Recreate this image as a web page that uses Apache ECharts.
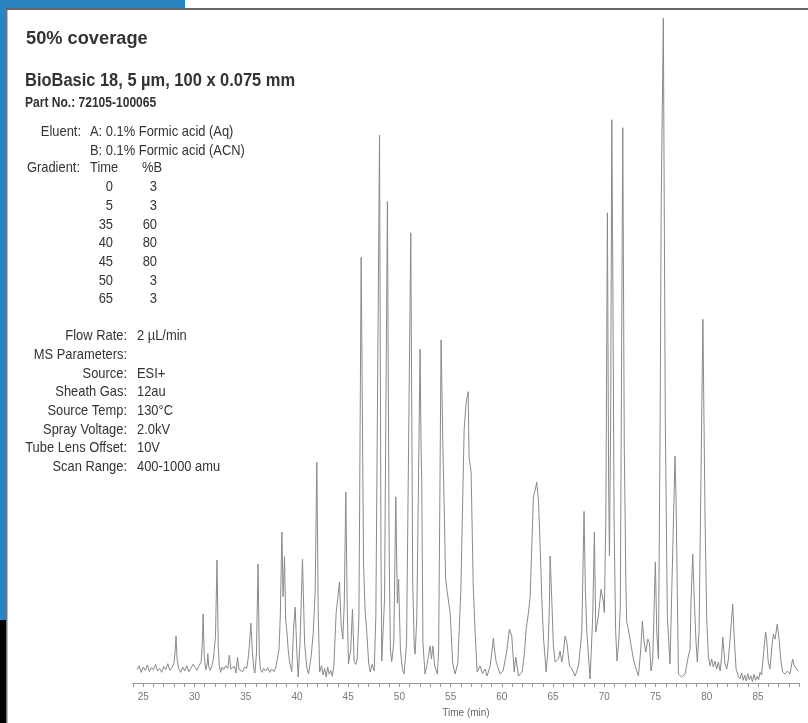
<!DOCTYPE html>
<html>
<head>
<meta charset="utf-8">
<script src="https://cdn.jsdelivr.net/npm/echarts@6/dist/echarts.min.js"></script>
<style>
  html, body { margin: 0; padding: 0; background: #fff; }
  #chart { width: 808px; height: 723px; }
</style>
</head>
<body>
<div id="chart"></div>
<script>
// Chromatogram trace: [retention time (min), relative intensity]
const traceEarly = [
  [24.4,2.0],[24.6,2.6],[24.8,1.6],[25.0,2.4],[25.2,1.9],[25.4,2.7],[25.6,1.7],[25.8,2.3],[26.0,2.0],[26.2,2.8],
  [26.4,1.8],[26.6,2.2],[26.8,1.6],[27.0,2.5],[27.2,2.0],[27.4,2.9],[27.6,1.9],[27.8,2.3],[28.0,3.0],[28.1,4.5],
  [28.2,7.1],[28.3,3.6],[28.45,2.2],[28.65,1.6],[28.85,2.4],[29.05,1.8],[29.25,2.6],[29.45,1.7],[29.65,2.2],[29.85,2.8],
  [30.05,2.4],[30.25,1.9],[30.45,2.6],[30.65,3.2],[30.75,5.5],[30.85,10.4],[30.95,4.0],[31.1,2.0],[31.25,3.0],[31.3,4.4],
  [31.4,2.4],[31.55,1.9],[31.7,2.6],[31.85,3.6],[31.97,5.7],[32.05,7.0],[32.2,18.5],[32.32,5.5],[32.42,2.6],[32.55,1.6],
  [32.7,2.4],[32.85,2.0],[33.05,2.6],[33.25,2.2],[33.4,4.2],[33.55,2.1],[33.7,1.8],[33.9,2.5],[34.05,1.5],[34.2,3.9],
  [34.35,2.0],[34.5,2.3],[34.7,1.7],[34.9,2.4],[35.1,2.2],[35.25,3.8],[35.35,5.5],[35.5,9.0],[35.65,4.8],[35.8,2.0],
  [35.9,1.5],[36.05,4.5],[36.2,17.9],[36.33,4.2],[36.45,2.0],[36.6,1.6],[36.75,2.2],[36.95,1.8],[37.15,2.3],[37.35,1.6],
  [37.55,2.1],[37.75,1.7],[37.95,2.4],[38.1,2.2],[38.25,5.0],[38.38,10.2],[38.53,22.7],[38.65,13.0],[38.79,19.0],[38.9,9.5],
  [39.02,7.7],[39.15,5.0],[39.27,3.2],[39.5,1.7],[39.68,8.4],[39.83,11.4],[39.98,5.1],[40.12,0.9],[40.3,6.0],[40.54,18.6],
  [40.75,6.0],[40.95,2.4],[41.13,1.35],[41.39,4.0],[41.59,7.6],[41.78,13.7],[41.94,33.2],[42.08,10.0],[42.22,1.65],[42.4,2.6],
  [42.55,1.2],[42.7,2.2],[42.85,0.9],[43.0,2.4],[43.15,1.3],[43.3,1.9],[43.45,1.0],[43.6,2.5]
];
const traceMid = [
  [43.83,10.6],[44.0,13.0],[44.15,15.2],[44.32,8.6],[44.48,6.6],[44.62,12.0],[44.77,28.7],[44.9,12.0],[45.03,2.85],[45.25,5.0],
  [45.42,11.1],[45.58,3.2],[45.75,2.8],[45.88,3.6],[46.05,10.0],[46.27,64.0],[46.5,18.0],[46.66,10.6],[46.82,7.6],[47.0,3.0],
  [47.15,1.65],[47.34,2.8],[47.54,1.8],[47.7,10.0],[48.06,82.4],[48.2,20.0],[48.28,3.3],[48.4,3.0],[48.55,12.6],[48.83,72.4],
  [49.0,20.0],[49.12,5.0],[49.25,3.2],[49.45,6.0],[49.65,28.0],[49.8,12.0],[49.92,15.6],[50.1,5.0],[50.3,2.0],[50.46,1.35],
  [50.7,6.0],[51.11,67.7],[51.3,15.0],[51.45,5.5],[51.54,4.35],[51.7,10.0],[52.02,50.2],[52.12,35.0],[52.18,30.6],[52.22,22.0],
  [52.3,6.0],[52.5,1.35],[52.7,2.8],[53.0,5.55],[53.13,3.6],[53.26,5.55],[53.45,2.5],[53.71,1.35],[53.83,5.0],[54.07,51.6],
  [54.25,35.0],[54.4,24.6],[54.5,16.0],[54.63,14.1],[54.95,10.6],[55.2,3.0],[55.44,1.35],[55.7,3.0],[56.0,14.0],[56.32,38.1],
  [56.5,42.0],[56.71,43.8],[56.8,33.9],[57.0,31.7],[57.2,15.0],[57.39,7.6],[57.59,1.65],[57.88,2.55],[58.1,1.4],[58.37,2.1],
  [58.56,1.05],[58.85,2.5],[59.05,5.0],[59.17,6.75],[59.3,4.8],[59.44,3.2],[59.83,1.35],[60.12,1.8],[60.45,4.5],[60.74,8.1],
  [60.97,7.0],[61.2,1.65],[61.36,3.9],[61.62,1.05],[61.98,1.65],[62.2,4.5],[62.37,8.1],[62.6,10.6],[62.76,13.0],[63.08,28.0],
  [63.25,29.0],[63.4,30.2],[63.57,27.6],[63.75,20.0],[63.9,12.6],[64.06,6.9],[64.32,1.65],[64.5,5.0],[64.64,11.6],[64.71,19.1],
  [64.87,12.6],[65.03,5.55],[65.2,3.15],[65.52,3.6],[65.68,4.8],[65.85,3.15],[66.0,4.5],[66.17,7.05],[66.34,6.15],[66.6,2.55],
  [66.84,2.1],[67.15,1.05],[67.48,2.55],[67.8,7.65],[68.02,25.8],[68.15,14.0],[68.29,7.65],[68.61,0.6]
];
const traceLate = [
  [68.87,10.1],[69.03,22.7],[69.17,7.65],[69.42,10.1],[69.68,14.1],[69.91,12.2],[70.0,10.6],[70.15,25.0],[70.3,70.7],[70.42,30.0],
  [70.5,19.1],[70.62,40.0],[70.73,84.7],[70.85,56.0],[70.95,25.0],[71.1,8.0],[71.24,3.3],[71.4,6.0],[71.56,11.4],[71.8,83.5],
  [71.95,35.0],[72.02,26.6],[72.1,15.0],[72.18,9.2],[72.35,8.1],[72.58,5.9],[72.84,3.6],[73.1,2.1],[73.33,1.05],[73.56,5.1],
  [73.71,9.3],[73.88,6.15],[74.05,4.65],[74.24,6.6],[74.4,6.15],[74.56,1.8],[74.73,3.6],[74.88,12.6],[74.98,18.2],[75.12,7.65],
  [75.28,3.6],[75.45,40.0],[75.55,72.0],[75.76,100],[75.95,40.0],[76.15,10.0],[76.41,2.85],[76.9,34.1],[77.0,28.0],[77.23,1.35],
  [77.55,0.9],[77.88,1.35],[78.2,4.05],[78.37,5.1],[78.46,12.2],[78.63,19.4],[78.79,12.2],[78.95,6.15],[79.08,3.15],[79.25,8.0],
  [79.62,54.7],[79.83,25.0],[79.99,10.0],[80.15,4.05],[80.32,2.55],[80.48,3.6],[80.64,2.4],[80.8,3.3],[80.97,2.1],[81.13,3.15],
  [81.3,1.8],[81.45,4.0],[81.56,6.9],[81.78,2.85],[81.95,2.1],[82.11,3.6],[82.27,6.6],[82.53,11.9],[82.7,6.15],[82.86,2.1],
  [83.08,1.05],[83.25,0.6],[83.4,1.5],[83.55,0.4],[83.7,1.2],[83.85,0.3],[84.0,1.4],[84.15,0.5],[84.3,1.1],[84.45,0.2],
  [84.6,1.3],[84.75,0.4],[84.9,1.0],[85.05,0.5],[85.2,1.6],[85.35,1.2],[85.58,5.1],[85.74,7.65],[85.84,6.6],[86.0,3.15],
  [86.17,2.1],[86.33,5.1],[86.49,7.35],[86.66,6.6],[86.88,8.85],[87.05,6.6],[87.22,3.6],[87.4,1.65],[87.63,1.35],[87.86,1.8],
  [88.12,1.35],[88.38,3.6],[88.54,2.55],[88.77,2.1],[88.9,1.8]
];

// Run conditions
const title = '50% coverage';
const columnName = 'BioBasic 18, 5 µm, 100 x 0.075 mm';
const partNo = 'Part No.: 72105-100065';
const eluents = ['A: 0.1% Formic acid (Aq)', 'B: 0.1% Formic acid (ACN)'];
const gradTime = [0, 5, 35, 40, 45, 50, 65];
const gradB = [3, 3, 60, 80, 80, 3, 3];
const paramLabels = ['Flow Rate:', 'MS Parameters:', 'Source:', 'Sheath Gas:', 'Source Temp:', 'Spray Voltage:', 'Tube Lens Offset:', 'Scan Range:'];
const paramValues = ['2 µL/min', '', 'ESI+', '12au', '130°C', '2.0kV', '10V', '400-1000 amu'];
const axisTitle = 'Time (min)';

const FAMILY = '"Liberation Sans", Arial, sans-serif';
const TXT = '#333';

// Text anchored at (x, y); horizontal squeeze gives a condensed face
function txt(x, y, text, font, align, squeeze) {
  return {
    type: 'text', x: x, y: y, silent: true,
    scaleX: squeeze || 1,
    style: {
      text: String(text), font: font, fill: TXT,
      align: align || 'left', textAlign: align || 'left',
      verticalAlign: 'middle', textVerticalAlign: 'middle'
    }
  };
}

const graphics = [
  // page frame
  { type: 'rect', shape: { x: 0, y: 0, width: 6, height: 620 }, style: { fill: '#2b84bf' }, silent: true },
  { type: 'rect', shape: { x: 0, y: 620, width: 6, height: 103 }, style: { fill: '#000' }, silent: true },
  { type: 'rect', shape: { x: 0, y: 0, width: 185, height: 8 }, style: { fill: '#2b84bf' }, silent: true },
  { type: 'line', shape: { x1: 6, y1: 9, x2: 808, y2: 9 }, style: { stroke: '#333', lineWidth: 1.6 }, silent: true },
  { type: 'line', shape: { x1: 6.8, y1: 9, x2: 6.8, y2: 723 }, style: { stroke: '#555', lineWidth: 1.2 }, silent: true },
  // headings
  txt(26, 39, title, 'bold 19px ' + FAMILY, 'left', 0.96),
  txt(25, 81, columnName, 'bold 17.5px ' + FAMILY, 'left', 0.94),
  txt(25, 103, partNo, 'bold 14px ' + FAMILY, 'left', 0.86)
];

const REG = '15px ' + FAMILY;
const SQ = 0.86;
const ROW = 18.7;
graphics.push(txt(81, 132, 'Eluent:', REG, 'right', SQ));
eluents.forEach((e, i) => graphics.push(txt(90, 132 + i * ROW, e, REG, 'left', SQ)));
graphics.push(txt(80, 168, 'Gradient:', REG, 'right', SQ));
graphics.push(txt(90, 168, 'Time', REG, 'left', SQ));
graphics.push(txt(142, 168, '%B', REG, 'left', SQ));
gradTime.forEach((t, i) => {
  graphics.push(txt(113, 187 + i * ROW, t, REG, 'right', SQ));
  graphics.push(txt(157, 187 + i * ROW, gradB[i], REG, 'right', SQ));
});
paramLabels.forEach((l, i) => {
  graphics.push(txt(127, 336 + i * ROW, l, REG, 'right', SQ));
  if (paramValues[i]) graphics.push(txt(137, 336 + i * ROW, paramValues[i], REG, 'left', SQ));
});

const chart = echarts.init(document.getElementById('chart'), null, { renderer: 'canvas' });
chart.setOption({
  animation: false,
  backgroundColor: '#fff',
  grid: { left: 133, right: 9, top: 18, bottom: 39, containLabel: false },
  xAxis: {
    type: 'value', min: 24, max: 89, interval: 1,
    name: axisTitle, nameLocation: 'middle', nameGap: 25,
    nameTextStyle: { color: '#666', fontSize: 10, fontFamily: FAMILY },
    axisLine: { lineStyle: { color: '#999', width: 1 } },
    axisTick: { length: 4, lineStyle: { color: '#999' } },
    splitLine: { show: false },
    axisLabel: {
      color: '#777', fontSize: 10, fontFamily: FAMILY, margin: 9,
      formatter: v => (Math.abs(v % 5) < 1e-6 ? String(v) : '')
    }
  },
  yAxis: { type: 'value', min: 0, max: 100, show: false },
  series: [{
    type: 'line', data: traceEarly.concat(traceMid, traceLate),
    symbol: 'none', smooth: false, clip: false,
    lineStyle: { color: '#8a8a8a', width: 1 }
  }],
  graphic: graphics
});
</script>
</body>
</html>
